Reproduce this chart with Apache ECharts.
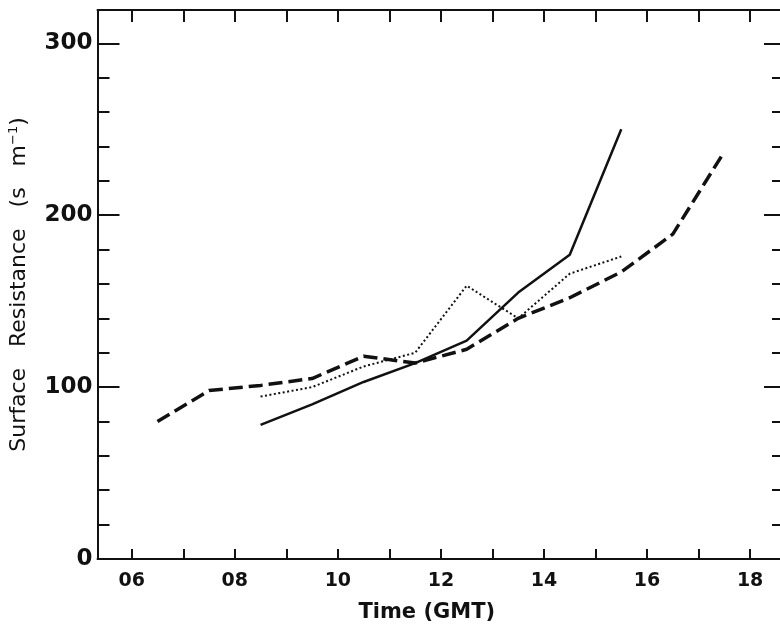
<!DOCTYPE html>
<html>
<head>
<meta charset="utf-8">
<script src="https://cdn.jsdelivr.net/npm/echarts@6/dist/echarts.min.js"></script>
<style>
html,body{margin:0;padding:0;background:#fff;}
#chart{width:780px;height:630px;}
</style>
</head>
<body>
<div id="chart"></div>
<script>
// Data (hour GMT, surface resistance s m^-1)
const hoursDashed = [6.5, 7.5, 8.5, 9.5, 10.5, 11.5, 12.5, 13.5, 14.5, 15.5, 16.5, 17.5];
const dashedValues = [80, 98, 101, 105, 118, 114, 122, 140, 152, 167, 189, 237];
const hoursSolid = [8.5, 9.5, 10.5, 11.5, 12.5, 13.5, 14.5, 15.5];
const solidValues = [78, 90, 103, 114, 127, 155, 177, 250];
const hoursDotted = [8.5, 9.5, 10.5, 11.5, 12.5, 13.5, 14.5, 15.5];
const dottedValues = [94.5, 100, 112, 120, 159, 140, 166, 176];
const xTickHours = [6, 7, 8, 9, 10, 11, 12, 13, 14, 15, 16, 17, 18];
const xLabelHours = [6, 8, 10, 12, 14, 16, 18];
const yMajorTicks = [0, 100, 200, 300];
const yMinorTicks = [20, 40, 60, 80, 120, 140, 160, 180, 220, 240, 260, 280];

const X_MIN = 5.336, X_MAX = 18.58, Y_MIN = 0, Y_MAX = 319.4;
const INK = '#111';
const FONT = 'DejaVu Sans';

function pairs(xs, ys) { return xs.map((x, i) => [x, ys[i]]); }

const chart = echarts.init(document.getElementById('chart'), null, {renderer: 'canvas'});

function yAx(pos, ticks, len, showLabels, showLine) {
  return {
    type: 'value', position: pos, min: Y_MIN, max: Y_MAX,
    axisLine: {show: showLine, onZero: false, lineStyle: {color: INK, width: 2}},
    axisTick: {show: true, inside: true, length: len, customValues: ticks, lineStyle: {color: INK, width: 2}},
    axisLabel: showLabels ? {show: true, customValues: yMajorTicks, margin: 5, color: INK,
      fontFamily: FONT, fontWeight: 'bold', fontSize: 23} : {show: false},
    splitLine: {show: false}
  };
}

const option = {
  animation: false,
  backgroundColor: '#fff',
  grid: {left: 97.5, right: 0, top: 10, bottom: 71, containLabel: false, outerBoundsMode: 'none'},
  xAxis: [
    {
      type: 'value', position: 'bottom', min: X_MIN, max: X_MAX,
      axisLine: {show: true, onZero: false, lineStyle: {color: INK, width: 2}},
      axisTick: {show: true, inside: true, length: 10, customValues: xTickHours, lineStyle: {color: INK, width: 2}},
      axisLabel: {show: true, customValues: xLabelHours, margin: 13, color: INK,
        fontFamily: FONT, fontWeight: 'bold', fontSize: 19,
        formatter: v => String(Math.round(v)).padStart(2, '0')},
      splitLine: {show: false},
      name: 'Time (GMT)', nameLocation: 'middle', nameGap: 43,
      nameTextStyle: {color: INK, fontFamily: FONT, fontWeight: 'bold', fontSize: 21, padding: [0, 24, 0, 0]}
    },
    {
      type: 'value', position: 'top', min: X_MIN, max: X_MAX,
      axisLine: {show: true, onZero: false, lineStyle: {color: INK, width: 2}},
      axisTick: {show: true, inside: true, length: 12, customValues: xTickHours, lineStyle: {color: INK, width: 2}},
      axisLabel: {show: false},
      splitLine: {show: false}
    }
  ],
  yAxis: [
    Object.assign(yAx('left', yMajorTicks, 22, true, true), {
      name: 'Surface   Resistance   (s   m{sup|−1})', nameLocation: 'middle', nameGap: 67, nameRotate: 90,
      nameTextStyle: {color: INK, fontFamily: FONT, fontWeight: 'normal', fontSize: 22,
        rich: {sup: {fontFamily: FONT, fontSize: 13, color: INK, verticalAlign: 'bottom', padding: [0, 0, 10, 0]}}}
    }),
    yAx('left', yMinorTicks, 12, false, false),
    yAx('right', yMajorTicks, 16, false, false),
    yAx('right', yMinorTicks, 8, false, false)
  ],
  series: [
    {
      type: 'line', name: 'dashed', xAxisIndex: 0, yAxisIndex: 0,
      data: pairs(hoursDashed, dashedValues), showSymbol: false, symbol: 'none',
      lineStyle: {color: INK, width: 3.5, type: [14, 6], cap: 'butt'}
    },
    {
      type: 'line', name: 'solid', xAxisIndex: 0, yAxisIndex: 0,
      data: pairs(hoursSolid, solidValues), showSymbol: false, symbol: 'none',
      lineStyle: {color: INK, width: 2.5, type: 'solid'}
    },
    {
      type: 'line', name: 'dotted', xAxisIndex: 0, yAxisIndex: 0,
      data: pairs(hoursDotted, dottedValues), showSymbol: false, symbol: 'none',
      lineStyle: {color: INK, width: 2, type: [2, 2.5], cap: 'butt'}
    }
  ]
};
chart.setOption(option);
</script>
</body>
</html>
